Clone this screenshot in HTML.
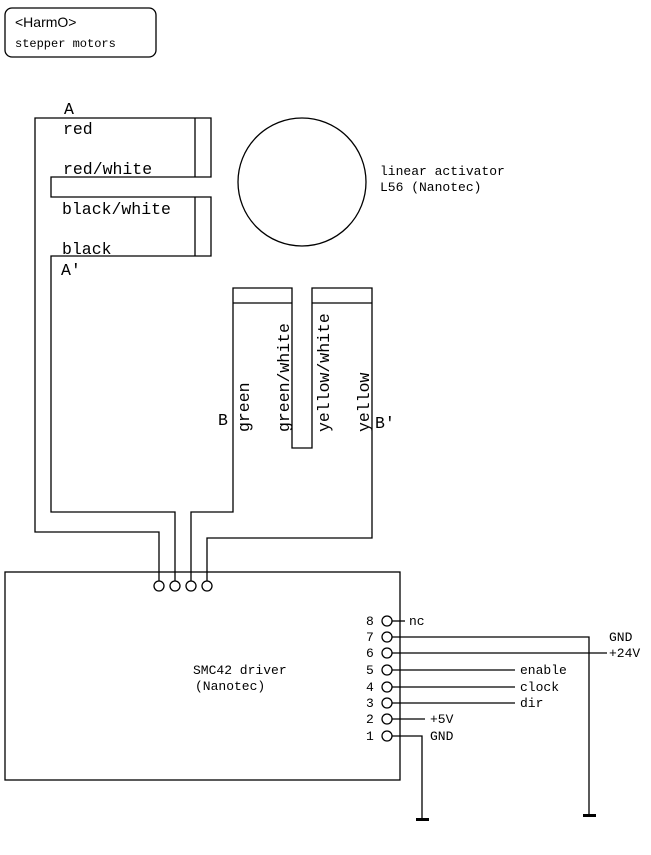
<!DOCTYPE html>
<html><head><meta charset="utf-8"><style>
html,body{margin:0;padding:0;background:#fff;width:651px;height:855px;overflow:hidden}
svg{display:block}
text{font-family:"Liberation Mono",monospace;fill:#000}
</style></head><body>
<svg width="651" height="855" viewBox="0 0 651 855" xmlns="http://www.w3.org/2000/svg">
<g fill="none" stroke="#000" stroke-width="1.3">
<rect x="5" y="8" width="151" height="49" rx="7"/>
<!-- A coil -->
<polyline points="159,581 159,532 35,532 35,118 211,118 211,177 51,177 51,197 211,197 211,256 51,256 51,512 175,512 175,581"/>
<line x1="195" y1="118" x2="195" y2="177"/>
<line x1="195" y1="197" x2="195" y2="256"/>
<circle cx="302" cy="182" r="64"/>
<!-- B coil -->
<polyline points="191,581 191,512 233,512 233,288 292,288 292,448 312,448 312,288 372,288 372,538 207,538 207,581"/>
<line x1="233" y1="303" x2="292" y2="303"/>
<line x1="312" y1="303" x2="372" y2="303"/>
<rect x="5" y="572" width="395" height="208"/>
<circle cx="159" cy="586" r="5"/><circle cx="175" cy="586" r="5"/>
<circle cx="191" cy="586" r="5"/><circle cx="207" cy="586" r="5"/>
<circle cx="387" cy="621" r="5"/><circle cx="387" cy="637" r="5"/>
<circle cx="387" cy="653" r="5"/><circle cx="387" cy="670" r="5"/>
<circle cx="387" cy="687" r="5"/><circle cx="387" cy="703" r="5"/>
<circle cx="387" cy="719" r="5"/><circle cx="387" cy="736" r="5"/>
<line x1="392" y1="621" x2="405" y2="621"/>
<polyline points="392,637 589,637 589,815"/>
<line x1="392" y1="653" x2="607" y2="653"/>
<line x1="392" y1="670" x2="515" y2="670"/>
<line x1="392" y1="687" x2="515" y2="687"/>
<line x1="392" y1="703" x2="515" y2="703"/>
<line x1="392" y1="719" x2="425" y2="719"/>
<polyline points="392,736 422,736 422,818"/>
</g>
<rect x="416" y="818" width="13" height="3" fill="#000"/>
<rect x="583" y="814" width="13" height="3" fill="#000"/>
<text x="15" y="27" style="font-family:'Liberation Sans',sans-serif;font-size:14px">&lt;HarmO&gt;</text>
<text x="15" y="47" font-size="12">stepper motors</text>
<g font-size="16.5">
<text x="64" y="114">A</text>
<text x="63" y="134">red</text>
<text x="63" y="174">red/white</text>
<text x="62" y="214">black/white</text>
<text x="62" y="254">black</text>
<text x="61" y="275">A'</text>
<text x="218" y="425">B</text>
<text x="375" y="428">B'</text>
<text transform="translate(249,432) rotate(-90)">green</text>
<text transform="translate(289,432) rotate(-90)">green/white</text>
<text transform="translate(329,432) rotate(-90)">yellow/white</text>
<text transform="translate(369,432) rotate(-90)">yellow</text>
</g>
<g font-size="13">
<text x="380" y="175">linear activator</text>
<text x="380" y="191">L56 (Nanotec)</text>
<text x="193" y="674">SMC42 driver</text>
<text x="195" y="690">(Nanotec)</text>
<text x="366" y="625">8</text><text x="366" y="641">7</text>
<text x="366" y="657">6</text><text x="366" y="674">5</text>
<text x="366" y="691">4</text><text x="366" y="707">3</text>
<text x="366" y="723">2</text><text x="366" y="740">1</text>
<text x="409" y="625">nc</text>
<text x="609" y="641">GND</text>
<text x="609" y="657">+24V</text>
<text x="520" y="674">enable</text>
<text x="520" y="691">clock</text>
<text x="520" y="707">dir</text>
<text x="430" y="723">+5V</text>
<text x="430" y="740">GND</text>
</g>
</svg>
</body></html>
